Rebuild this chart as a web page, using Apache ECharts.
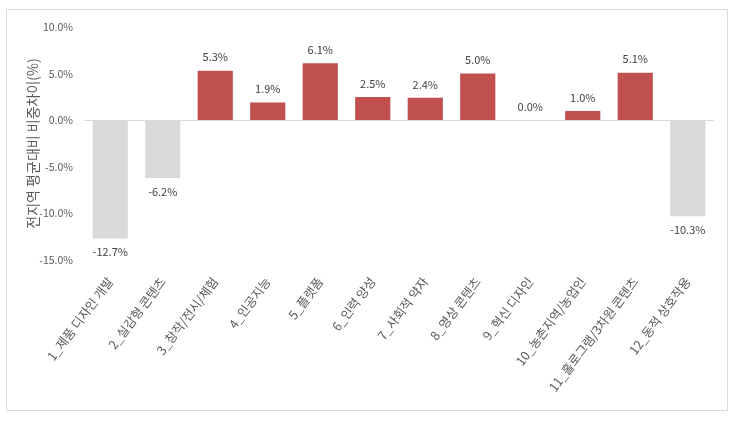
<!DOCTYPE html>
<html><head><meta charset="utf-8">
<script src="https://cdn.jsdelivr.net/npm/echarts@6/dist/echarts.min.js"></script>
<style>html,body{margin:0;padding:0;background:#fff;}#c{width:751px;height:422px;}</style>
</head><body><div id="c"></div>
<script>
const categories = ['1_제품 디자인 개발','2_실감형 콘텐츠','3_창작/전시/체험','4_인공지능','5_플랫폼','6_인력 양성','7_사회적 약자','8_영상 콘텐츠','9_혁신 디자인','10_농촌지역/농업인','11_홀로그램/3차원 콘텐츠','12_동적 상호작용'];
const values = [-12.7, -6.2, 5.3, 1.9, 6.1, 2.5, 2.4, 5.0, 0.0, 1.0, 5.1, -10.3];
const yAxisName = '전지역 평균대비 비중차이(%)';
const yMin = -15, yMax = 10, yStep = 5;

const FONT = '"Noto Sans CJK KR", "Noto Sans", sans-serif';
const chart = echarts.init(document.getElementById('c'));
chart.setOption({
  animation: false,
  textStyle: { fontFamily: FONT },
  graphic: [{ type: 'rect', shape: { x: 6.5, y: 9.5, width: 721, height: 401 }, style: { fill: 'none', stroke: '#d9d9d9', lineWidth: 1 } }],
  grid: { left: 84, right: 37, top: 27, bottom: 162 },
  xAxis: {
    type: 'category', data: categories,
    axisLine: { show: false, onZero: false }, axisTick: { show: false },
    axisLabel: { rotate: 53, interval: 0, margin: 19, fontSize: 12.5, color: '#595959', fontFamily: FONT }
  },
  yAxis: {
    type: 'value', min: yMin, max: yMax, interval: yStep,
    name: yAxisName, nameLocation: 'middle', nameGap: 44, nameRotate: 90, nameMoveOverlap: false,
    nameTextStyle: { fontSize: 14, color: '#595959', fontFamily: FONT },
    axisLine: { show: false }, axisTick: { show: false }, splitLine: { show: false },
    axisLabel: { fontSize: 10.5, color: '#595959', margin: 11, formatter: v => v.toFixed(1) + '%' }
  },
  series: [{
    type: 'bar', barCategoryGap: '33%',
    data: values.map(v => ({
      value: v,
      itemStyle: { color: v < 0 ? '#d9d9d9' : '#c0504d' },
      label: { position: v < 0 ? 'bottom' : 'top' }
    })),
    label: { show: true, distance: 8, fontSize: 11, color: '#404040', formatter: p => p.value.toFixed(1) + '%' },
    markLine: {
      silent: true, symbol: 'none', label: { show: false },
      lineStyle: { color: '#d9d9d9', type: 'solid', width: 1 },
      data: [{ yAxis: 0 }]
    }
  }]
});
</script></body></html>
